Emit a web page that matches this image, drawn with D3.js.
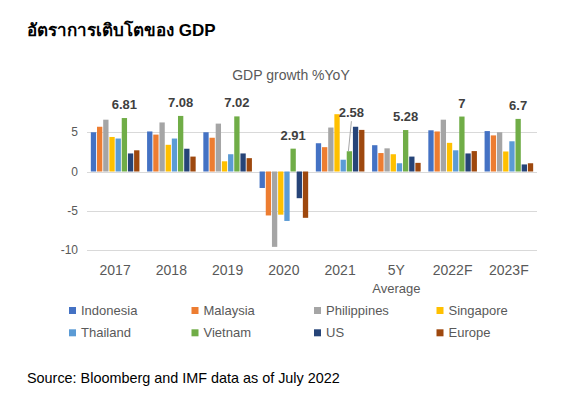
<!DOCTYPE html>
<html>
<head>
<meta charset="utf-8">
<script src="https://cdn.jsdelivr.net/npm/d3@7"></script>
<style>
  body { margin: 0; background: #fff; }
  text { font-family: "Liberation Sans", Arial, sans-serif; }
</style>
</head>
<body>
<div id="visHolder"></div>
<script>
var width = 577;
var height = 399;

var categories = ["2017", "2018", "2019", "2020", "2021", "5Y", "2022F", "2023F"];
var countries = ["Indonesia", "Malaysia", "Philippines", "Singapore", "Thailand", "Vietnam", "US", "Europe"];
var colors = ["#4472C4", "#ED7D31", "#A5A5A5", "#FFC000", "#5B9BD5", "#70AD47", "#264478", "#9E480E"];

// one array per country, in category order
var indonesia   = [5.0, 5.1, 5.0, -2.1, 3.6, 3.35, 5.25, 5.15];
var malaysia    = [5.7, 4.7, 4.3, -5.6, 3.1, 2.35, 5.1, 4.6];
var philippines = [6.6, 6.25, 6.1, -9.6, 5.6, 2.95, 6.6, 5.0];
var singapore   = [4.4, 3.4, 1.3, -5.5, 7.3, 2.2, 3.65, 2.55];
var thailand    = [4.2, 4.2, 2.2, -6.3, 1.5, 1.05, 2.7, 3.85];
var vietnam     = [6.81, 7.08, 7.02, 2.91, 2.58, 5.28, 7.0, 6.7];
var us          = [2.3, 2.9, 2.3, -3.4, 5.7, 1.9, 2.3, 0.9];
var europe      = [2.7, 1.9, 1.7, -5.9, 5.3, 1.1, 2.6, 1.05];
var series = [indonesia, malaysia, philippines, singapore, thailand, vietnam, us, europe];

var vietnamLabels = ["6.81", "7.08", "7.02", "2.91", "2.58", "5.28", "7", "6.7"];
var yTicks = [-10, -5, 0, 5];

var svg = d3.select("#visHolder")
  .append("svg")
  .attr("width", width)
  .attr("height", height);

// titles
svg.append("text")
  .attr("x", 27).attr("y", 36)
  .attr("font-size", "17px").attr("font-weight", "bold").attr("fill", "#000")
  .text("อัตราการเติบโตของ GDP");

svg.append("text")
  .attr("x", 291).attr("y", 80)
  .attr("text-anchor", "middle")
  .attr("font-size", "14px").attr("fill", "#595959")
  .text("GDP growth %YoY");

var x0 = d3.scaleBand().domain(categories).range([87, 537]).paddingInner(0).paddingOuter(0);
var x1 = d3.scaleBand().domain(countries).range([0, x0.bandwidth()]).paddingInner(0.14).paddingOuter(0.62);
var y = d3.scaleLinear().domain([-10, 10]).range([250, 93]);

// grid
svg.append("g").selectAll("line")
  .data(yTicks)
  .enter()
  .append("line")
  .attr("x1", 87).attr("x2", 537)
  .attr("y1", d => Math.round(y(d)) + 0.5)
  .attr("y2", d => Math.round(y(d)) + 0.5)
  .attr("stroke", "#D9D9D9").attr("stroke-width", 1);

svg.append("g").selectAll("text")
  .data(yTicks)
  .enter()
  .append("text")
  .attr("x", 78)
  .attr("y", d => y(d) + 4)
  .attr("text-anchor", "end")
  .attr("font-size", "12px").attr("fill", "#595959")
  .text(d => d);

// bars
var groups = svg.append("g").selectAll("g")
  .data(series)
  .enter()
  .append("g")
  .attr("fill", (d, i) => colors[i]);

groups.selectAll("rect")
  .data((d, i) => d.map((v, j) => ({ v: v, cat: categories[j], c: countries[i] })))
  .enter()
  .append("rect")
  .attr("x", d => x0(d.cat) + x1(d.c))
  .attr("width", x1.bandwidth())
  .attr("y", d => y(Math.max(0, d.v)))
  .attr("height", d => Math.abs(y(d.v) - y(0)));

// data labels over Vietnam bars
var vx = d => x0(d.cat) + x1("Vietnam") + x1.bandwidth() / 2;
var vData = vietnam.map((v, j) => ({ v: v, cat: categories[j], label: vietnamLabels[j] }));

svg.append("g").selectAll("text")
  .data(vData)
  .enter()
  .append("text")
  .attr("x", d => d.cat === "2021" ? vx(d) + 2 : vx(d))
  .attr("y", d => d.cat === "2021" ? y(d.v) - 34 : y(d.v) - 9)
  .attr("text-anchor", "middle")
  .attr("font-size", "13px").attr("font-weight", "bold").attr("fill", "#404040")
  .text(d => d.label);

// leader line for 2021
var d21 = vData[4];
svg.append("line")
  .attr("x1", vx(d21) - 1).attr("y1", y(d21.v))
  .attr("x2", vx(d21) + 2).attr("y2", y(d21.v) - 30)
  .attr("stroke", "#A6A6A6").attr("stroke-width", 1);

// category labels
svg.append("g").selectAll("text")
  .data(categories)
  .enter()
  .append("text")
  .attr("x", d => x0(d) + x0.bandwidth() / 2)
  .attr("y", 275)
  .attr("text-anchor", "middle")
  .attr("font-size", "14px").attr("fill", "#595959")
  .text(d => d);

svg.append("text")
  .attr("x", x0("5Y") + x0.bandwidth() / 2)
  .attr("y", 293)
  .attr("text-anchor", "middle")
  .attr("font-size", "13px").attr("fill", "#595959")
  .text("Average");

// legend
var legend = svg.append("g").selectAll("g")
  .data(countries)
  .enter()
  .append("g")
  .attr("transform", (d, i) => "translate(" + (69 + (i % 4) * 122.5) + "," + (307 + Math.floor(i / 4) * 22.3) + ")");

legend.append("rect")
  .attr("width", 7).attr("height", 7)
  .attr("fill", (d, i) => colors[i]);

legend.append("text")
  .attr("x", 12).attr("y", 8)
  .attr("font-size", "13px").attr("fill", "#595959")
  .text(d => d);

svg.append("text")
  .attr("x", 27).attr("y", 382.5)
  .attr("font-size", "14.4px").attr("fill", "#000")
  .text("Source: Bloomberg and IMF data as of July 2022");
</script>
</body>
</html>
